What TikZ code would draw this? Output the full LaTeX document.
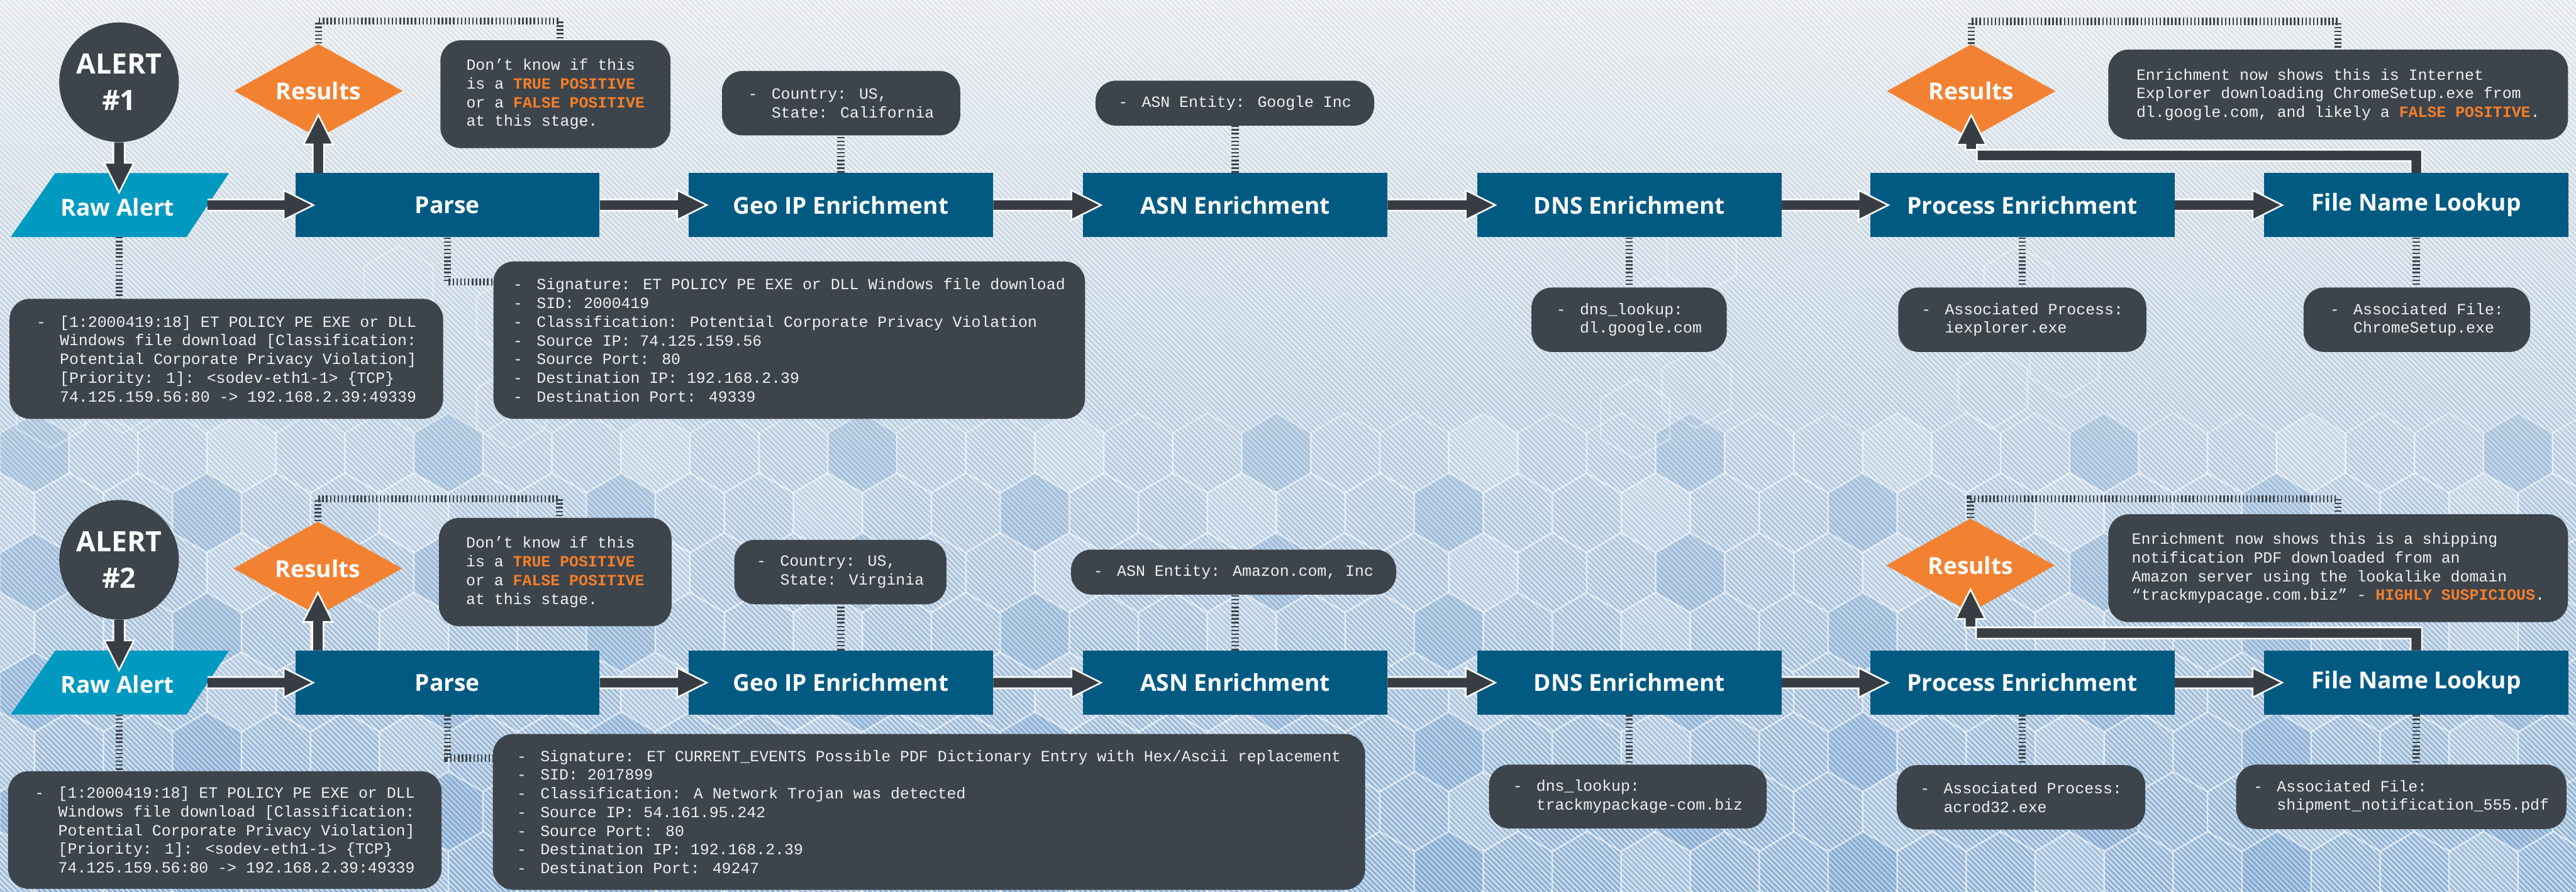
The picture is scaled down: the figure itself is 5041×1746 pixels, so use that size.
\documentclass[tikz,border=0pt]{standalone}
\usepackage{fontspec}
\setmainfont{Open Sans}
\newfontfamily\monof{Liberation Mono}
\usetikzlibrary{calc,shapes.geometric,patterns}

\definecolor{boxc}{HTML}{005A82}
\definecolor{rawc}{HTML}{0099C0}
\definecolor{callc}{HTML}{3D444B}
\definecolor{arrc}{HTML}{383D44}
\definecolor{orng}{HTML}{F28232}
\definecolor{hlc}{HTML}{F47F2A}
\definecolor{bgtop}{HTML}{E4E8EB}
\definecolor{bgmid}{HTML}{D2DCE5}
\definecolor{bgbot}{HTML}{92B4D7}
\definecolor{hexblue}{HTML}{3F7FC0}

\newcommand\mybul{-\hspace{0.9em}}
\newcommand\myind{\hspace*{1.5em}}
\newcommand\hil[1]{{\bfseries\color{hlc}#1}}

\tikzset{
 stepbox/.style={fill=boxc, minimum width=5.95cm, minimum height=1.25cm, inner sep=0pt, text=white, font=\bfseries\fontsize{13}{15}\selectfont},
 lbl/.style={text=white, font=\bfseries\fontsize{13}{15}\selectfont, inner sep=0pt},
 alertc/.style={circle, fill=callc, minimum size=2.34cm, inner sep=0pt, text=white, align=center, font=\bfseries\fontsize{15.6}{20.2}\selectfont},
 resd/.style={diamond, fill=orng, minimum width=3.3cm, minimum height=1.84cm, aspect=1.8, inner sep=0pt, text=white, font=\bfseries\fontsize{13}{15}\selectfont},
 note/.style={fill=callc, rounded corners=0.4cm, inner sep=0pt, text=white!94!black, align=left, font=\monof\fontsize{8.7}{10.4}\selectfont},
 dotc/.style={draw=callc, line width=0.14cm, dash pattern=on 0.03cm off 0.045cm},
 arrw/.style={draw=white, line width=0.9pt, line join=miter},
 hexl/.style={draw=white, line width=0.8pt, draw opacity=0.38},
}

% horizontal fat arrow: #1 start coordinate, #2 target node
\newcommand\fatH[2]{%
 \fill[arrc] ($(#1)+(0,-11)$) -- ($(#2.west)+(-22,-11)$) -- ($(#2.west)+(-22,-29)$) -- ($(#2.west)+(36,0)$) -- ($(#2.west)+(-22,29)$) -- ($(#2.west)+(-22,11)$) -- ($(#1)+(0,11)$) -- cycle;
 \draw[arrw] ($(#1)+(0,-11)$) -- ($(#2.west)+(-22,-11)$) -- ($(#2.west)+(-22,-29)$) -- ($(#2.west)+(36,0)$) -- ($(#2.west)+(-22,29)$) -- ($(#2.west)+(-22,11)$) -- ($(#1)+(0,11)$);}
% vertical fat arrow: #1 start, #2 tip; #3 = -58 (down) or 58 (up)
\newcommand\fatV[3]{%
 \fill[arrc] ($(#1)+(-11,0)$) -- ($(#2)+(-11,#3)$) -- ($(#2)+(-29,#3)$) -- (#2) -- ($(#2)+(29,#3)$) -- ($(#2)+(11,#3)$) -- ($(#1)+(11,0)$) -- cycle;
 \draw[arrw] ($(#1)+(-11,0)$) -- ($(#2)+(-11,#3)$) -- ($(#2)+(-29,#3)$) -- (#2) -- ($(#2)+(29,#3)$) -- ($(#2)+(11,#3)$) -- ($(#1)+(11,0)$);}
% elbow feedback arrow: #1 file node, #2 results node, #3 tip coordinate, #4 elbow coordinate
\newcommand\fatElbow[4]{%
 \fill[arrc] ($(#1.north)+(11,0)$) -- ($(#4)+(11,-11)$) -- ($(#4 -| #3)+(-11,-11)$) -- ($(#3)+(-11,58)$) -- ($(#3)+(-29,58)$) -- (#3) -- ($(#3)+(29,58)$) -- ($(#3)+(11,58)$) -- ($(#4 -| #3)+(11,11)$) -- ($(#4)+(-11,11)$) -- ($(#1.north)+(-11,0)$) -- cycle;
 \draw[arrw] ($(#1.north)+(11,0)$) -- ($(#4)+(11,-11)$) -- ($(#4 -| #3)+(-11,-11)$) -- ($(#3)+(-11,58)$) -- ($(#3)+(-29,58)$) -- (#3) -- ($(#3)+(29,58)$) -- ($(#3)+(11,58)$) -- ($(#4 -| #3)+(11,11)$) -- ($(#4)+(-11,11)$) -- ($(#1.north)+(-11,0)$);}

\begin{document}
\begin{tikzpicture}[x=0.01cm,y=-0.01cm]
\useasboundingbox (0,0) rectangle (5041,1746);
% ---------- background ----------
\shade[top color=bgtop, middle color=bgmid, bottom color=bgbot] (0,0) rectangle (5041,1746);
\fill[pattern=north west lines, pattern color=white, fill opacity=0.08] (0,0) rectangle (5041,1746);
\foreach \r in {1,...,9}{
  \foreach \c in {0,...,38}{
    \pgfmathsetmacro\hx{\c*135+mod(\r,2)*67.5}
    \pgfmathsetmacro\hy{770+\r*117}
    \pgfmathtruncatemacro\hf{mod(\c*7+\r*3,6)}
    \ifnum\hf=0 \fill[white, opacity=0.16] (\hx,\hy) +(90:78) -- +(150:78) -- +(210:78) -- +(270:78) -- +(330:78) -- +(30:78) -- cycle;\fi
    \ifnum\hf=3 \fill[hexblue, opacity=0.14] (\hx,\hy) +(90:78) -- +(150:78) -- +(210:78) -- +(270:78) -- +(330:78) -- +(30:78) -- cycle;\fi
    \draw[hexl] (\hx,\hy) +(90:78) -- +(150:78) -- +(210:78) -- +(270:78) -- +(330:78) -- +(30:78) -- cycle;
  }
}
\foreach \hx/\hy in {780/560, 1000/620, 1000/800, 3240/620, 3330/500, 3200/820, 3320/760, 3950/560, 3900/760, 4040/700, 100/800, 240/770}{
  \draw[hexl] (\hx,\hy) +(90:78) -- +(150:78) -- +(210:78) -- +(270:78) -- +(330:78) -- +(30:78) -- cycle;
}

% ================= ROW 1 =================
\node[alertc] (al1) at (233,161) {ALERT\\\#1};
\fill[rawc] (21,464) -- (108,339) -- (448,339) -- (365,464) -- cycle;
\node[lbl] (raw1) at (230,405) {Raw Alert};
\coordinate (rawR1) at (406,401.5);
\coordinate (rawT1) at (233,339);
\coordinate (rawB1) at (233,464);

\node[stepbox] (parse1) at (875.5,401.5) {Parse};
\node[stepbox] (geo1) at (1645.5,401.5) {Geo IP Enrichment};
\node[stepbox] (asn1) at (2417,401.5) {ASN Enrichment};
\node[stepbox] (dns1) at (3188.5,401.5) {DNS Enrichment};
\node[stepbox] (proc1) at (3957.5,401.5) {Process Enrichment};
\node[stepbox] (file1) at (4728.5,401.5) {File Name Lookup};

\node[resd] (res1) at (623,178) {Results};
\node[resd] (res2) at (3857.5,178.5) {Results};

\node[note, minimum width=4.5cm, minimum height=2.11cm] (dk1) at (1087,184.5)
 {Don’t know if this\\is a \hil{TRUE POSITIVE}\\or a \hil{FALSE POSITIVE}\\at this stage.};
\node[note, minimum width=8.48cm, minimum height=2.35cm] (rc1) at (443,702.5)
 {\mybul[1:2000419:18] ET POLICY PE EXE or DLL\\
  \myind Windows file download [Classification:\\
  \myind Potential Corporate Privacy Violation]\\
  \myind [Priority: 1]: <sodev-eth1-1> \{TCP\}\\
  \myind 74.125.159.56:80 -> 192.168.2.39:49339};
\node[note, minimum width=11.57cm, minimum height=3.08cm] (sig1) at (1544.5,666)
 {\mybul Signature: ET POLICY PE EXE or DLL Windows file download\\
  \mybul SID: 2000419\\
  \mybul Classification: Potential Corporate Privacy Violation\\
  \mybul Source IP: 74.125.159.56\\
  \mybul Source Port: 80\\
  \mybul Destination IP: 192.168.2.39\\
  \mybul Destination Port: 49339};
\node[note, minimum width=4.66cm, minimum height=1.26cm] (geoc1) at (1646,202)
 {\mybul Country: US,\\\myind State: California};
\node[note, minimum width=5.45cm, minimum height=0.88cm] (asnc1) at (2416.5,202)
 {\mybul ASN Entity: Google Inc};
\node[note, minimum width=3.82cm, minimum height=1.26cm] (dnsc1) at (3188,626)
 {\mybul dns\_lookup:\\\myind dl.google.com};
\node[note, minimum width=4.85cm, minimum height=1.26cm] (procc1) at (3957.5,626)
 {\mybul Associated Process:\\\myind iexplorer.exe};
\node[note, minimum width=4.43cm, minimum height=1.26cm] (filec1) at (4729.5,626)
 {\mybul Associated File:\\\myind ChromeSetup.exe};
\node[note, minimum width=8.99cm, minimum height=1.76cm] (en1) at (4575.5,185)
 {Enrichment now shows this is Internet\\
  Explorer downloading ChromeSetup.exe from\\
  dl.google.com, and likely a \hil{FALSE POSITIVE}.};

% dotted connectors row 1
\draw[dotc] (res1.north) -- ++(0,-44) -| ($(dk1.north)+(9,0)$);
\draw[dotc] (res2.north) -- ++(0,-44) -| (en1.north);
\draw[dotc] (rawB1) -- (rawB1 |- rc1.north);
\draw[dotc] (parse1.south) |- ($(sig1.north west)+(0,41)$);
\draw[dotc] (geo1.north) -- (geo1.north |- geoc1.south);
\draw[dotc] (asn1.north) -- (asn1.north |- asnc1.south);
\draw[dotc] (dns1.south) -- (dns1.south |- dnsc1.north);
\draw[dotc] (proc1.south) -- (proc1.south |- procc1.north);
\draw[dotc] (file1.south) -- (file1.south |- filec1.north);

% fat arrows row 1
\coordinate (t1a) at ($(al1.south |- rawT1)+(0,38)$);
\fatV{al1.south}{t1a}{-58}
\fatH{rawR1}{parse1}
\fatH{parse1.east}{geo1}
\fatH{geo1.east}{asn1}
\fatH{asn1.east}{dns1}
\fatH{dns1.east}{proc1}
\fatH{proc1.east}{file1}
\coordinate (t1b) at ($(res1.south)+(0,-46)$);
\fatV{res1.south |- parse1.north}{t1b}{58}
\coordinate (t1c) at ($(res2.south)+(0,-46)$);
\coordinate (e1) at ($(file1.north)+(0,-34)$);
\fatElbow{file1}{res2}{t1c}{e1}

% ================= ROW 2 =================
\node[alertc] (al2) at (233,1096) {ALERT\\\#2};
\fill[rawc] (21,1399) -- (108,1274) -- (448,1274) -- (365,1399) -- cycle;
\node[lbl] (raw2) at (230,1340) {Raw Alert};
\coordinate (rawR2) at (406,1336.5);
\coordinate (rawT2) at (233,1274);
\coordinate (rawB2) at (233,1399);

\node[stepbox] (parse2) at (875.5,1336.5) {Parse};
\node[stepbox] (geo2) at (1645.5,1336.5) {Geo IP Enrichment};
\node[stepbox] (asn2) at (2417,1336.5) {ASN Enrichment};
\node[stepbox] (dns2) at (3188.5,1336.5) {DNS Enrichment};
\node[stepbox] (proc2) at (3957.5,1336.5) {Process Enrichment};
\node[stepbox] (file2) at (4728.5,1336.5) {File Name Lookup};

\node[resd] (res3) at (622,1113) {Results};
\node[resd] (res4) at (3856,1107) {Results};

\node[note, minimum width=4.55cm, minimum height=2.12cm] (dk2) at (1086.5,1120)
 {Don’t know if this\\is a \hil{TRUE POSITIVE}\\or a \hil{FALSE POSITIVE}\\at this stage.};
\node[note, minimum width=8.48cm, minimum height=2.30cm] (rc2) at (440,1625)
 {\mybul[1:2000419:18] ET POLICY PE EXE or DLL\\
  \myind Windows file download [Classification:\\
  \myind Potential Corporate Privacy Violation]\\
  \myind [Priority: 1]: <sodev-eth1-1> \{TCP\}\\
  \myind 74.125.159.56:80 -> 192.168.2.39:49339};
\node[note, minimum width=17.06cm, minimum height=3.05cm] (sig2) at (1818,1589.5)
 {\mybul Signature: ET CURRENT\_EVENTS Possible PDF Dictionary Entry with Hex/Ascii replacement\\
  \mybul SID: 2017899\\
  \mybul Classification: A Network Trojan was detected\\
  \mybul Source IP: 54.161.95.242\\
  \mybul Source Port: 80\\
  \mybul Destination IP: 192.168.2.39\\
  \mybul Destination Port: 49247};
\node[note, minimum width=4.15cm, minimum height=1.26cm] (geoc2) at (1644.5,1120)
 {\mybul Country: US,\\\myind State: Virginia};
\node[note, minimum width=6.36cm, minimum height=0.88cm] (asnc2) at (2414,1120)
 {\mybul ASN Entity: Amazon.com, Inc};
\node[note, minimum width=5.43cm, minimum height=1.25cm] (dnsc2) at (3185.5,1559.5)
 {\mybul dns\_lookup:\\\myind trackmypackage-com.biz};
\node[note, minimum width=4.86cm, minimum height=1.26cm] (procc2) at (3955,1561)
 {\mybul Associated Process:\\\myind acrod32.exe};
\node[note, minimum width=6.46cm, minimum height=1.26cm] (filec2) at (4699,1560)
 {\mybul Associated File:\\\myind shipment\_notification\_555.pdf};
\node[note, minimum width=8.99cm, minimum height=2.11cm] (en2) at (4575.5,1112.5)
 {Enrichment now shows this is a shipping\\
  notification PDF downloaded from an\\
  Amazon server using the lookalike domain\\
  “trackmypacage.com.biz” - \hil{HIGHLY SUSPICIOUS}.};

% dotted connectors row 2
\draw[dotc] (res3.north) -- ++(0,-44) -| ($(dk2.north)+(8,0)$);
\draw[dotc] (res4.north) -- ++(0,-38) -| (en2.north);
\draw[dotc] (rawB2) -- (rawB2 |- rc2.north);
\draw[dotc] (parse2.south) |- ($(sig2.north west)+(0,48)$);
\draw[dotc] (geo2.north) -- (geo2.north |- geoc2.south);
\draw[dotc] (asn2.north) -- (asn2.north |- asnc2.south);
\draw[dotc] (dns2.south) -- (dns2.south |- dnsc2.north);
\draw[dotc] (proc2.south) -- (proc2.south |- procc2.north);
\draw[dotc] (file2.south) -- (file2.south |- filec2.north);

% fat arrows row 2
\coordinate (t2a) at ($(al2.south |- rawT2)+(0,38)$);
\fatV{al2.south}{t2a}{-58}
\fatH{rawR2}{parse2}
\fatH{parse2.east}{geo2}
\fatH{geo2.east}{asn2}
\fatH{asn2.east}{dns2}
\fatH{dns2.east}{proc2}
\fatH{proc2.east}{file2}
\coordinate (t2b) at ($(res3.south)+(0,-46)$);
\fatV{res3.south |- parse2.north}{t2b}{58}
\coordinate (t2c) at ($(res4.south)+(0,-46)$);
\coordinate (e2) at ($(file2.north)+(0,-34)$);
\fatElbow{file2}{res4}{t2c}{e2}
\end{tikzpicture}
\end{document}
